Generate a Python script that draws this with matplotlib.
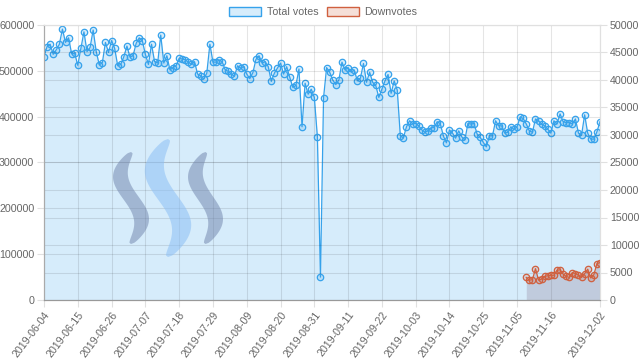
import matplotlib
matplotlib.use("Agg")
import matplotlib.pyplot as plt
from matplotlib.patches import Patch, Polygon
from matplotlib.ticker import MultipleLocator, FuncFormatter
import numpy as np
import pandas as pd

plt.rcParams['font.family'] = ['Liberation Sans', 'DejaVu Sans']

start_date = "2019-06-04"
tick_labels = ["2019-06-04", "2019-06-15", "2019-06-26", "2019-07-07", "2019-07-18",
               "2019-07-29", "2019-08-09", "2019-08-20", "2019-08-31", "2019-09-11",
               "2019-09-22", "2019-10-03", "2019-10-14", "2019-10-25", "2019-11-05",
               "2019-11-16", "2019-12-02"]

total_votes = [
    531000, 553000, 558000, 536000, 546000, 558000, 591000, 562000, 572000, 537000,
    538000, 512000, 549000, 585000, 542000, 551000, 589000, 542000, 513000, 518000,
    562000, 540000, 566000, 549000, 511000, 514000, 531000, 554000, 530000, 533000,
    560000, 572000, 566000, 536000, 514000, 558000, 520000, 517000, 578000, 517000,
    533000, 502000, 507000, 511000, 527000, 526000, 524000, 519000, 514000, 520000,
    493000, 489000, 482000, 495000, 558000, 519000, 519000, 524000, 520000, 502000,
    499000, 493000, 488000, 511000, 506000, 509000, 493000, 483000, 496000, 525000,
    533000, 517000, 520000, 509000, 477000, 495000, 506000, 517000, 493000, 509000,
    486000, 464000, 468000, 504000, 378000, 473000, 449000, 460000, 442000, 356000,
    50000,
    441000, 507000, 497000, 480000, 470000, 480000, 519000, 502000, 507000, 497000,
    502000, 478000, 484000, 516000, 475000, 497000, 475000, 468000, 442000, 460000,
    478000, 492000, 451000, 478000, 458000, 358000, 354000, 378000, 391000, 385000,
    385000,
    380000, 371000, 366000, 369000, 376000, 376000, 389000, 385000, 358000, 343000,
    371000, 364000, 353000, 369000, 356000, 349000, 385000, 384000, 385000, 362000,
    355000, 344000, 334000, 358000, 358000, 391000, 380000, 380000, 364000, 366000,
    378000, 372000,
    378000, 399000, 396000, 384000, 369000, 366000, 395000, 391000, 384000, 380000,
    373000, 364000, 391000, 384000, 406000, 389000, 387000, 387000, 384000, 395000,
    364000, 360000, 404000, 364000, 351000, 351000, 367000, 389000,
]

downvotes_start = "2019-11-08"
downvotes = [
    4100, 3600, 3700, 5700, 3600, 3800, 4300, 4400, 4500, 4500,
    5400, 5500, 4700, 4300, 4100, 5000, 4800, 4500, 4100, 4800,
    5600, 4000, 4600, 6600, 6800,
]

blue = '#36a2eb'
blue_fill = (54 / 255, 162 / 255, 235 / 255, 0.2)
red = '#d0603f'
red_fill = (208 / 255, 96 / 255, 63 / 255, 0.2)
text_c = '#666666'
fs = 7.7

t0 = pd.Timestamp(start_date)
x = np.arange(len(total_votes))
dx0 = (pd.Timestamp(downvotes_start) - t0).days
xd = np.arange(dx0, dx0 + len(downvotes))
tick_pos = [(pd.Timestamp(t) - t0).days for t in tick_labels]

W, H = 640, 361
fig = plt.figure(figsize=(6.4, 3.61), dpi=100)
ax = fig.add_axes([44 / W, 1 - 300 / H, 556 / W, 275 / H])
ax2 = ax.twinx()

# blue series on left axis
ax.fill_between(x, total_votes, color=blue_fill, lw=0)
ax.plot(x, total_votes, color=blue, lw=0.9, marker='o', ms=4.6,
        mfc=blue_fill, mec=blue, mew=0.9)
ax.set_xlim(0, len(total_votes) - 1)
ax.set_ylim(0, 600000)
ax.yaxis.set_major_locator(MultipleLocator(100000))
ax.yaxis.set_major_formatter(FuncFormatter(lambda v, p: f"{int(v)}"))
ax.set_xticks(tick_pos)
ax.set_xticklabels(tick_labels, rotation=53, ha='right', rotation_mode='anchor')
ax.grid(True)

# red series on right axis
ax2.fill_between(xd, downvotes, color=(0.45, 0.35, 0.45, 0.22), lw=0)
ax2.plot(xd, downvotes, color=red, lw=0.9, marker='o', ms=4.6,
         mfc=red_fill, mec=red, mew=0.9)
ax2.set_ylim(0, 50000)
ax2.yaxis.set_major_locator(MultipleLocator(5000))
ax2.yaxis.set_major_formatter(FuncFormatter(lambda v, p: f"{int(v)}"))
ax2.grid(True, axis='y')

for a in (ax, ax2):
    a.tick_params(length=5, color='#e0e0e0', labelcolor=text_c, labelsize=fs, pad=2,
                  grid_color='#000000', grid_alpha=0.1, grid_linewidth=0.8)
    for s in a.spines.values():
        s.set_color('#e0e0e0')
    a.spines['left'].set_color('#aaaaaa')
    a.spines['bottom'].set_color('#999999')

# steem logo
def swoosh(xc, amp, ytop, ybot, hw):
    t = np.linspace(0, 1, 80)
    cx = xc - amp * np.sin(2 * np.pi * t)
    cy = ytop + t * (ybot - ytop)
    w = hw * np.sin(np.pi * t) ** 0.4
    xs = np.concatenate([cx - w, (cx + w)[::-1]])
    ys = np.concatenate([cy, cy[::-1]])
    return np.column_stack([xs / W, 1 - ys / H])

for xc, amp, yt, yb, hw, col in [(131, 10.5, 152, 244, 8.5, (0.43, 0.51, 0.67, 0.5)),
                                 (168, 13.5, 139, 257, 11, (0.55, 0.75, 0.96, 0.55)),
                                 (205.5, 10, 152, 244, 8.5, (0.43, 0.51, 0.67, 0.5))]:
    fig.patches.append(Polygon(swoosh(xc, amp, yt, yb, hw), closed=True,
                               transform=fig.transFigure, fc=col, ec='none', zorder=3))

handles = [Patch(fc=blue_fill, ec=blue, lw=1, label='Total votes'),
           Patch(fc=red_fill, ec=red, lw=1, label='Downvotes')]
fig.legend(handles=handles, loc='center', bbox_to_anchor=(0.505, 1 - 12 / H), ncol=2,
           frameon=False, fontsize=fs, handlelength=3.0, handleheight=0.9,
           handletextpad=0.5, columnspacing=0.8, labelcolor=text_c)

fig.savefig('out.png', dpi=100)
